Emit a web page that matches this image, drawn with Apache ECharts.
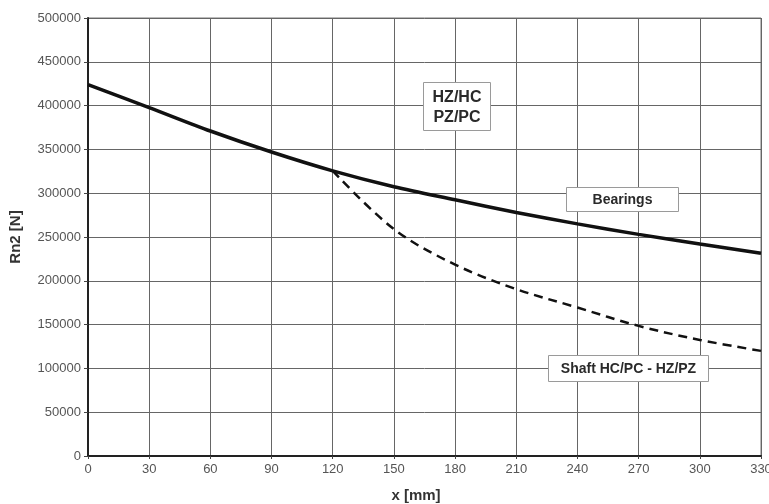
<!DOCTYPE html>
<html>
<head>
<meta charset="utf-8">
<script src="https://cdn.jsdelivr.net/npm/echarts@6/dist/echarts.min.js"></script>
<style>
  html, body { margin: 0; padding: 0; background: #fff; }
  #chart { width: 769px; height: 504px; }
</style>
</head>
<body>
<div id="chart"></div>
<script>
// Distance along the shaft [mm]
const xPositions = [0, 30, 60, 90, 120, 150, 180, 210, 240, 270, 300, 330];
// Radial load limited by the bearings [N]
const bearingLoad = [424000, 397800, 371000, 347000, 325500, 307400, 292500, 278000, 265000, 253000, 242000, 231500];
// Radial load limited by the shaft [N], from x = 120 mm onward
const shaftX = [120, 150, 180, 210, 240, 270, 300, 330];
const shaftLoad = [325500, 259000, 218500, 190500, 169500, 148500, 132500, 120000];

const xTicks = [0, 30, 60, 90, 120, 150, 180, 210, 240, 270, 300, 330];

const chart = echarts.init(document.getElementById('chart'));

const labelFont = 'Liberation Sans, Arial, sans-serif';

// Framed annotation box with centred text
function noteBox(x, y, w, h, text, fontSize, lineHeight) {
  return {
    type: 'group',
    left: x,
    top: y,
    z: 100,
    children: [
      {
        type: 'rect',
        z: 100,
        shape: { x: 0, y: 0, width: w, height: h },
        style: { fill: '#fff', stroke: '#9a9a9a', lineWidth: 1 }
      },
      {
        type: 'text',
        z: 101,
        x: w / 2,
        y: h / 2 + 1,
        style: {
          text: text,
          fontFamily: labelFont,
          fontWeight: 'bold',
          fontSize: fontSize,
          lineHeight: lineHeight,
          fill: '#2a2a2a',
          align: 'center',
          verticalAlign: 'middle'
        }
      }
    ]
  };
}

chart.setOption({
  animation: false,
  backgroundColor: '#ffffff',
  grid: {
    left: 88, right: 8, top: 18, bottom: 48,
    outerBoundsMode: 'none',
    containLabel: false,
    show: true, borderColor: '#777', borderWidth: 1
  },
  xAxis: {
    type: 'value',
    min: 0,
    max: 330,
    interval: 30,
    name: 'x [mm]',
    nameLocation: 'middle',
    nameGap: 32,
    nameTextStyle: {
      fontFamily: labelFont, fontWeight: 'bold', fontSize: 15, color: '#333',
      padding: [0, 17, 0, 0]
    },
    axisLine: { show: true, onZero: false, lineStyle: { color: '#222', width: 2 } },
    axisTick: { show: true, length: 3, lineStyle: { color: '#444' } },
    axisLabel: {
      fontFamily: labelFont, fontSize: 13, color: '#555', margin: 7,
      formatter: v => (xTicks.indexOf(v) >= 0 ? String(v) : '')
    },
    splitLine: { show: true, lineStyle: { color: '#666', width: 1 } }
  },
  yAxis: {
    type: 'value',
    min: 0,
    max: 500000,
    interval: 50000,
    name: 'Rn2 [N]',
    nameLocation: 'middle',
    nameGap: 65,
    nameRotate: 90,
    nameTextStyle: { fontFamily: labelFont, fontWeight: 'bold', fontSize: 15, color: '#333' },
    axisLine: { show: true, lineStyle: { color: '#222', width: 2 } },
    axisTick: { show: true, length: 4, lineStyle: { color: '#444' } },
    axisLabel: {
      fontFamily: labelFont, fontSize: 13, color: '#555', margin: 7,
      formatter: v => String(v)
    },
    splitLine: { show: true, lineStyle: { color: '#666', width: 1 } }
  },
  series: [
    {
      name: 'Bearings',
      type: 'line',
      smooth: 0.3,
      showSymbol: false,
      data: xPositions.map((x, i) => [x, bearingLoad[i]]),
      lineStyle: { color: '#111', width: 3.5 },
      z: 5
    },
    {
      name: 'Shaft HC/PC - HZ/PZ',
      type: 'line',
      smooth: 0.35,
      showSymbol: false,
      data: shaftX.map((x, i) => [x, shaftLoad[i]]),
      lineStyle: { color: '#111', width: 2.5, type: [9, 6] },
      z: 4
    }
  ],
  graphic: [
    noteBox(423, 82, 67, 48, 'HZ/HC\nPZ/PC', 16, 20),
    noteBox(566, 187, 112, 24, 'Bearings', 14, 16),
    noteBox(548, 355, 160, 26, 'Shaft HC/PC - HZ/PZ', 14, 16)
  ]
});
</script>
</body>
</html>
